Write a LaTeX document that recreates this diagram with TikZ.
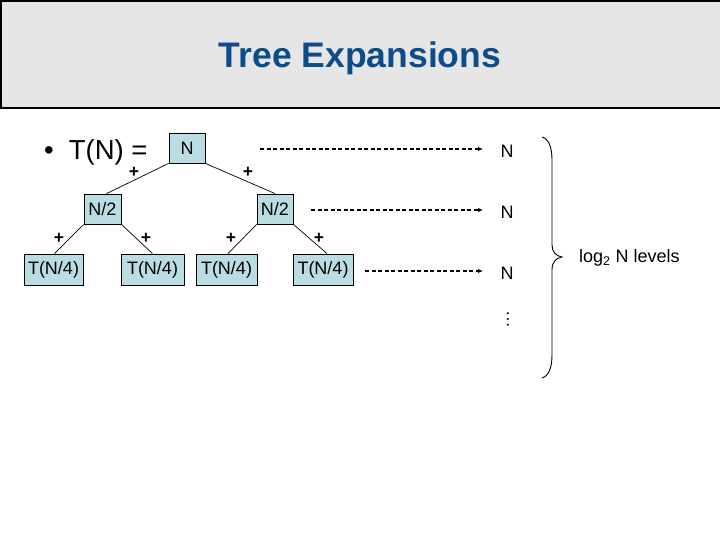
\documentclass[tikz,border=0pt]{standalone}
\usepackage{fontspec}
\setmainfont{Liberation Sans}
\usetikzlibrary{arrows.meta}
\definecolor{boxfill}{RGB}{185,221,226}
\definecolor{titleblue}{RGB}{12,76,138}
\definecolor{headfill}{RGB}{230,230,230}
\tikzset{
  tbox/.style={draw=black, line width=0.8pt, fill=boxfill, inner sep=0pt, minimum height=30pt,
    font=\fontsize{18}{20}\selectfont},
  edge/.style={draw=black, line width=0.7pt},
  plus/.style={font=\fontsize{17.5}{18}\selectfont\bfseries, inner sep=0pt, text height=10.5pt, text depth=0pt},
  lvl/.style={font=\fontsize{18}{20}\selectfont, inner sep=0pt},
  dasharrow/.style={line width=1.3pt, dash pattern=on 4pt off 2.5pt, -{Latex[length=5pt,width=4.5pt]}}
}
\begin{document}
\begin{tikzpicture}[x=1pt,y=-1pt]
\useasboundingbox (0,0) rectangle (720,540);
% header
\draw[fill=headfill, line width=1.5pt] (1,1) rectangle (730,108);
\node[anchor=base, inner sep=0pt, text=titleblue, font=\fontsize{35.5}{40}\selectfont\bfseries] (title) at (360,68) {Tree Expansions};
% T(N) =
\node[anchor=base west, inner sep=0pt, text depth=0pt, font=\fontsize{27.5}{32}\selectfont] (tn) at (44,160) {•\hspace{15pt}T(N) =};
% tree
\node[tbox, minimum width=36pt] (n0) at (187,148) {N};
\node[tbox, minimum width=37pt] (n1L) at (102.5,209) {N/2};
\node[tbox, minimum width=36pt] (n1R) at (275,209) {N/2};
\node[tbox, minimum width=59pt, minimum height=31pt] (l1) at (53.5,269.5) {T(N/4)};
\node[tbox, minimum width=63pt, minimum height=31pt] (l2) at (152.5,269.5) {T(N/4)};
\node[tbox, minimum width=61pt, minimum height=31pt] (l3) at (226.5,269.5) {T(N/4)};
\node[tbox, minimum width=60pt, minimum height=31pt] (l4) at (323,269.5) {T(N/4)};
\path[edge] (n0.south west) -- ([xshift=4pt]n1L.north);
\path[edge] (n0.south east) -- (n1R.north);
\path[edge] (n1L.south west) -- ([xshift=1pt]l1.north);
\path[edge] (n1L.south east) -- (l2.north);
\path[edge] (n1R.south west) -- ([xshift=1.5pt]l3.north);
\path[edge] (n1R.south east) -- ([xshift=4pt]l4.north);
% plus signs
\node[plus] (p1) at (134,172) {+};
\node[plus] (p2) at (248,172) {+};
\node[plus] (p3) at (59,238) {+};
\node[plus] (p4) at (146,238) {+};
\node[plus] (p5) at (231,238) {+};
\node[plus] (p6) at (319,238) {+};
% level sums
\node[lvl] (m1) at (507,151.5) {N};
\node[lvl] (m2) at (507,212) {N};
\node[lvl] (m3) at (507,273) {N};
\node[lvl, rotate=90] (dots) at (508,319) {…};
\coordinate (s1) at (260,149);
\coordinate (s2) at (311,210);
\coordinate (s3) at (365,271);
\coordinate (e1) at (483,149);
\coordinate (e2) at (483,210);
\coordinate (e3) at (483,271);
\draw[dasharrow] (s1) -- (e1);
\draw[dasharrow] (s2) -- (e2);
\draw[dasharrow] (s3) -- (e3);
% brace
\draw[line width=0.9pt] (542,137) .. controls (549,139) and (552,148) .. (552,160) -- (552,245)
  .. controls (552,252) and (556,256) .. (562,257)
  .. controls (556,258) and (552,262) .. (552,270) -- (552,355)
  .. controls (552,367) and (549,376) .. (542,378);
\node[lvl, anchor=west] (levels) at (579,258) {log\textsubscript{2} N levels};
\end{tikzpicture}
\end{document}
